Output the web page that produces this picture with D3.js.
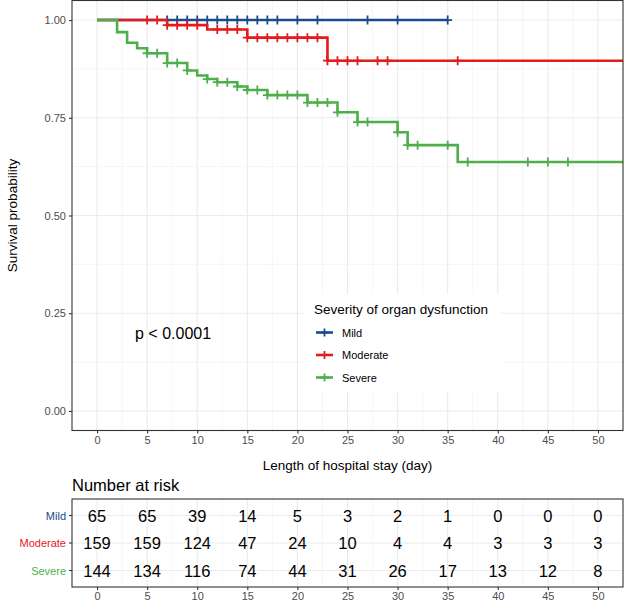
<!DOCTYPE html>
<html><head><meta charset="utf-8">
<script src="https://cdn.jsdelivr.net/npm/d3@7"></script>
<style>body{margin:0;background:#fff} svg{display:block} text{font-family:"Liberation Sans",Arial,sans-serif}</style>
</head><body><svg id="c" width="625" height="606"></svg>
<script>
const groups = ["Mild","Moderate","Severe"];
const colors = ["#1B4B8C","#E41A1C","#4DAF4A"];

const mildEventTimes = [];
const mildSurv = [];
const mildCensor = [7,8,9,10,11,12,13,14,15,16,17,18,20,22,27,30,35];
const mildEnd = 35;

const moderateEventTimes = [7,11,15,23];
const moderateSurv = [0.987,0.976,0.955,0.896];
const moderateCensor = [5,6,7,8,9,10,12,13,14,15,16,17,18,19,20,21,22,23,24,25,26,28,29,36];
const moderateEnd = 60;

const severeEventTimes = [2,3,4,5,7,9,10,11,12,14,15,17,21,24,26,30,31,36];
const severeSurv = [0.969,0.942,0.928,0.915,0.890,0.871,0.858,0.849,0.841,0.830,0.821,0.808,0.789,0.764,0.739,0.713,0.680,0.637];
const severeCensor = [5,6,7,8,9,11,12,13,14,15,16,17,18,19,20,21,22,23,24,26,27,30,31,32,35,37,43,45,47];
const severeEnd = 60;

const riskTimes = [0,5,10,15,20,25,30,35,40,45,50];
const riskMild = [65,65,39,14,5,3,2,1,0,0,0];
const riskModerate = [159,159,124,47,24,10,4,4,3,3,3];
const riskSevere = [144,134,116,74,44,31,26,17,13,12,8];

const xTicks = [0,5,10,15,20,25,30,35,40,45,50];
const yTicks = [0,0.25,0.5,0.75,1];
const yTickLabels = ["0.00","0.25","0.50","0.75","1.00"];

const series = [
  {name:groups[0], color:colors[0], times:mildEventTimes, surv:mildSurv, censor:mildCensor, end:mildEnd},
  {name:groups[1], color:colors[1], times:moderateEventTimes, surv:moderateSurv, censor:moderateCensor, end:moderateEnd},
  {name:groups[2], color:colors[2], times:severeEventTimes, surv:severeSurv, censor:severeCensor, end:severeEnd}
];
const risk = [riskMild, riskModerate, riskSevere];

const svg = d3.select("#c");
const P = {l:72, r:623, t:0.5, b:430.5};
const x = d3.scaleLinear().domain([-2.5,52.5]).range([P.l,P.r]);
const y = d3.scaleLinear().domain([-0.05,1.05]).range([P.b,P.t]);

svg.append("defs").append("clipPath").attr("id","clip")
  .append("rect").attr("x",P.l).attr("y",P.t).attr("width",P.r-P.l).attr("height",P.b-P.t);

function grid(g, xs, ysv, ysc, top, bottom, xsc) {
  const minorX = d3.range(2.5, 50, 5);
  g.selectAll(".mnx").data(minorX).join("line")
    .attr("x1",d=>xsc(d)).attr("x2",d=>xsc(d)).attr("y1",top).attr("y2",bottom)
    .attr("stroke","#F0F0F0").attr("stroke-width",0.6);
  g.selectAll(".mjx").data(xs).join("line")
    .attr("x1",d=>xsc(d)).attr("x2",d=>xsc(d)).attr("y1",top).attr("y2",bottom)
    .attr("stroke","#EBEBEB").attr("stroke-width",1.1);
}

// main panel grids
const gGrid = svg.append("g");
grid(gGrid, xTicks, null, null, P.t, P.b, x);
const minorY = [0.125,0.375,0.625,0.875];
gGrid.selectAll(".mny").data(minorY).join("line")
  .attr("x1",P.l).attr("x2",P.r).attr("y1",d=>y(d)).attr("y2",d=>y(d))
  .attr("stroke","#F0F0F0").attr("stroke-width",0.6);
gGrid.selectAll(".mjy").data(yTicks).join("line")
  .attr("x1",P.l).attr("x2",P.r).attr("y1",d=>y(d)).attr("y2",d=>y(d))
  .attr("stroke","#EBEBEB").attr("stroke-width",1.1);

// curves
function survAt(s, t) {
  let v = 1;
  s.times.forEach((tt,i)=>{ if (tt <= t) v = s.surv[i]; });
  return v;
}
const line = d3.line().x(d=>x(d[0])).y(d=>y(d[1])).curve(d3.curveStepAfter);
const gCurves = svg.append("g").attr("clip-path","url(#clip)");
series.forEach(s=>{
  const pts = [[0,1]];
  s.times.forEach((t,i)=>pts.push([t,s.surv[i]]));
  pts.push([s.end, s.surv.length ? s.surv[s.surv.length-1] : 1]);
  gCurves.append("path").attr("d",line(pts)).attr("fill","none")
    .attr("stroke",s.color).attr("stroke-width",2.6);
  gCurves.selectAll(null).data(s.censor).join("path")
    .attr("d",d=>{const cx=x(d), cy=y(survAt(s,d)); return `M${cx-4.5},${cy}H${cx+4.5}M${cx},${cy-4.5}V${cy+4.5}`;})
    .attr("stroke",s.color).attr("stroke-width",1.8);
});

// panel border
svg.append("rect").attr("x",P.l).attr("y",P.t).attr("width",P.r-P.l).attr("height",P.b-P.t)
  .attr("fill","none").attr("stroke","#333333").attr("stroke-width",1.1);

// axes
const ax = svg.append("g").attr("transform",`translate(0,${P.b})`)
  .call(d3.axisBottom(x).tickValues(xTicks).tickSize(3).tickPadding(3));
const ay = svg.append("g").attr("transform",`translate(${P.l},0)`)
  .call(d3.axisLeft(y).tickValues(yTicks).tickFormat((d,i)=>yTickLabels[i]).tickSize(3).tickPadding(3));
[ax,ay].forEach(a=>{
  a.select(".domain").remove();
  a.selectAll(".tick line").attr("stroke","#333333").attr("stroke-width",1.1);
  a.selectAll(".tick text").attr("fill","#4D4D4D").style("font-size","11px").style("font-family","Liberation Sans, Arial, sans-serif");
});

svg.append("text").attr("x",(P.l+P.r)/2).attr("y",470).attr("text-anchor","middle")
  .style("font-size","13.5px").attr("fill","#000").text("Length of hospital stay (day)");
svg.append("text").attr("transform",`translate(17,${(P.t+P.b)/2}) rotate(-90)`).attr("text-anchor","middle")
  .style("font-size","13.5px").attr("fill","#000").text("Survival probability");

svg.append("text").attr("x",135).attr("y",339).style("font-size","16px").attr("fill","#000").text("p < 0.0001");

// legend
const lg = svg.append("g");
lg.append("rect").attr("x",305).attr("y",294).attr("width",196).attr("height",98).attr("fill","#fff");
lg.append("text").attr("x",314).attr("y",314).style("font-size","13.5px").attr("fill","#000").text("Severity of organ dysfunction");
series.forEach((s,i)=>{
  const cy = 332.5 + i*22.5;
  lg.append("line").attr("x1",316).attr("x2",333).attr("y1",cy).attr("y2",cy).attr("stroke",s.color).attr("stroke-width",2.6);
  lg.append("path").attr("d",`M${324.5-4},${cy}H${324.5+4}M${324.5},${cy-4}V${cy+4}`).attr("stroke",s.color).attr("stroke-width",1.8);
  lg.append("text").attr("x",342).attr("y",cy+4).style("font-size","11px").attr("fill","#000").text(s.name);
});

// risk table
const T = {t:499, b:587};
const ty = d3.scaleLinear().domain([0.4,3.6]).range([T.t,T.b]);
svg.append("text").attr("x",P.l).attr("y",491).style("font-size","16.5px").attr("fill","#000").text("Number at risk");
const gT = svg.append("g");
grid(gT, xTicks, null, null, T.t, T.b, x);
gT.selectAll(".rowg").data([1,2,3]).join("line")
  .attr("x1",P.l).attr("x2",P.r).attr("y1",d=>ty(d)).attr("y2",d=>ty(d))
  .attr("stroke","#EBEBEB").attr("stroke-width",1.1);
risk.forEach((arr,i)=>{
  gT.selectAll(null).data(arr).join("text")
    .attr("x",(d,j)=>x(riskTimes[j])).attr("y",ty(i+1)+6)
    .attr("text-anchor","middle").style("font-size","16.5px").attr("fill","#000").text(d=>d);
});
svg.append("rect").attr("x",P.l).attr("y",T.t).attr("width",P.r-P.l).attr("height",T.b-T.t)
  .attr("fill","none").attr("stroke","#333333").attr("stroke-width",1.1);
const tax = svg.append("g").attr("transform",`translate(0,${T.b})`)
  .call(d3.axisBottom(x).tickValues(xTicks).tickSize(3).tickPadding(2));
tax.select(".domain").remove();
tax.selectAll(".tick line").attr("stroke","#333333").attr("stroke-width",1.1);
tax.selectAll(".tick text").attr("fill","#4D4D4D").style("font-size","11px");
groups.forEach((g,i)=>{
  svg.append("line").attr("x1",P.l-3).attr("x2",P.l).attr("y1",ty(i+1)).attr("y2",ty(i+1)).attr("stroke","#333").attr("stroke-width",1.1);
  svg.append("text").attr("x",P.l-6).attr("y",ty(i+1)+4).attr("text-anchor","end")
    .style("font-size","11px").attr("fill",colors[i]).text(g);
});
</script></body></html>
